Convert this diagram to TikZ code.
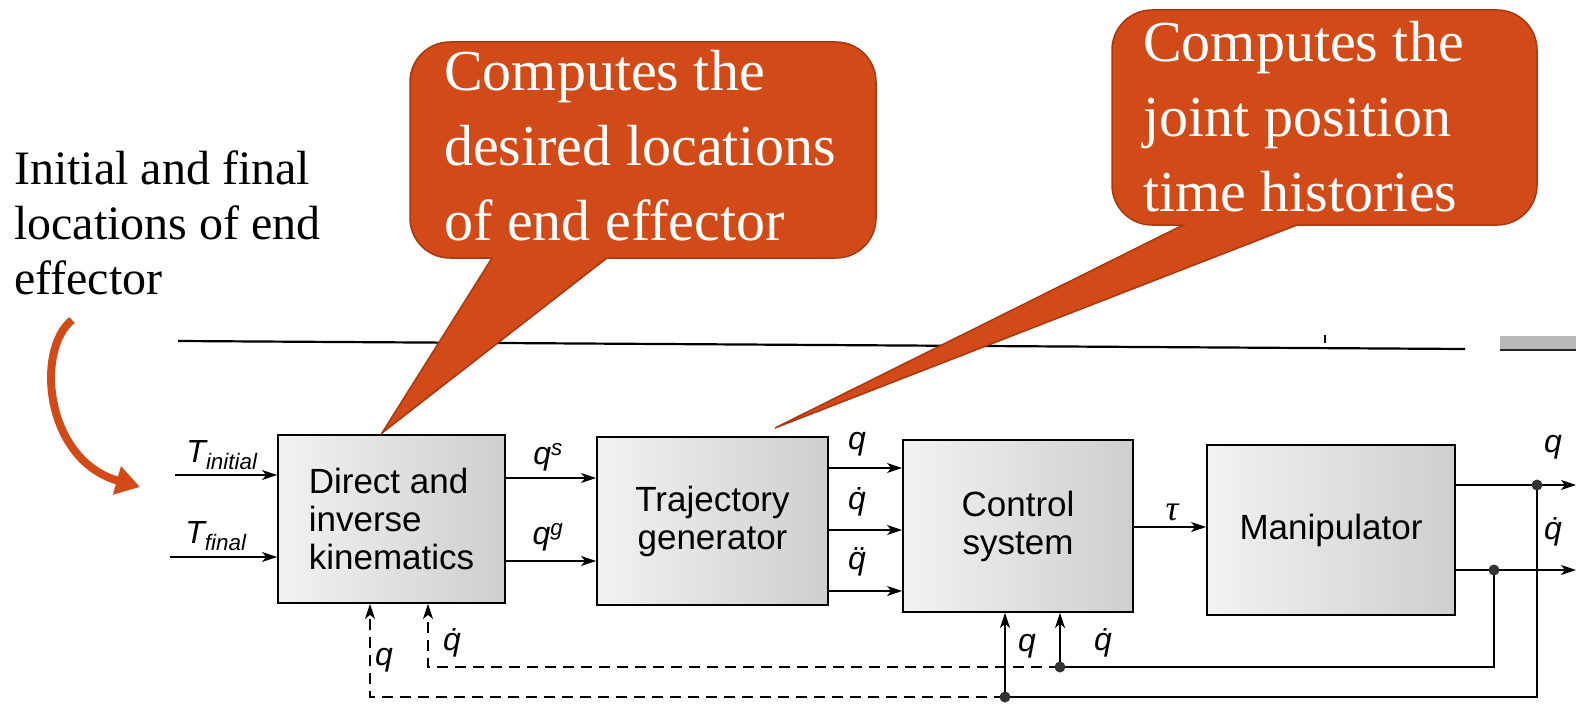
\documentclass[tikz,border=0pt]{standalone}
\usepackage{fontspec}
\setmainfont{Liberation Serif}
\setsansfont{Liberation Sans}
\usetikzlibrary{arrows.meta}
\definecolor{callfill}{RGB}{209,74,24}
\definecolor{callline}{RGB}{168,56,16}
% speech bubble: left, top, right, bottom, tail base left, tail base right, tip x, tip y
\newcommand\bubblepath[8]{%
  \path[bubble] (#1+40,#2) -- (#3-40,#2) arc[start angle=270,end angle=360,radius=40]
  -- (#3,#4-40) arc[start angle=0,end angle=90,radius=40]
  -- (#6,#4) -- (#7,#8) -- (#5,#4)
  -- (#1+40,#4) arc[start angle=90,end angle=180,radius=40]
  -- (#1,#2+40) arc[start angle=180,end angle=270,radius=40] -- cycle;}
\begin{document}
\begin{tikzpicture}[x=1pt,y=-1pt,
  blk/.style={draw=black, line width=1.8pt, left color=gray!10, right color=gray!38,
    font=\sffamily\fontsize{35}{38}\selectfont, inner sep=0},
  tip/.style={-{Stealth[length=15pt,width=10pt,inset=4pt]}},
  sig/.style={line width=1.6pt, tip},
  fb/.style={line width=1.5pt},
  fbd/.style={line width=1.5pt, dash pattern=on 11pt off 7pt},
  lab/.style={font=\sffamily\itshape\fontsize{32}{36}\selectfont, inner sep=0},
  dotj/.style={circle, fill=black!80, inner sep=0, minimum size=11pt},
  bubble/.style={fill=callfill, draw=callline, line width=1.5pt},
  bubtext/.style={text=white, font=\rmfamily\fontsize{58}{75}\selectfont, align=left,
    inner sep=0, anchor=north west},
]
\fill[white] (0,0) rectangle (1576,714);
\useasboundingbox (0,0) rectangle (1576,714);

% rule and scrap at the top of the figure
\draw[line width=2.2pt] (178,341) -- (1465,349);
\draw[line width=2pt] (1325,335) -- (1325,343);
\fill[gray!55] (1500,336) rectangle (1576,350);
\draw[line width=2.4pt, black!85] (1500,350) -- (1576,350);

% blocks
\node[blk, minimum width=227pt, minimum height=168pt, align=left] (dik) at (391.5,519) {Direct and\\inverse\\kinematics};
\node[blk, minimum width=231pt, minimum height=168pt, align=center] (traj) at (712.5,521) {Trajectory\\generator};
\node[blk, minimum width=230pt, minimum height=172pt, align=center] (ctrl) at (1018,526) {Control\\system};
\node[blk, minimum width=248pt, minimum height=170pt] (man) at (1331,530) {Manipulator};

% inputs
\coordinate (inTi) at (175,475);
\coordinate (inTf) at (170,557);
\draw[sig] (inTi) -- (inTi -| dik.west);
\draw[sig] (inTf) -- (inTf -| dik.west);
\node[lab] (lTi) at (222,455) {T\textsubscript{initial}};
\node[lab] (lTf) at (216,536) {T\textsubscript{final}};

% kinematics -> trajectory generator
\coordinate (yqs) at (0,478);
\coordinate (yqg) at (0,561);
\draw[sig] (dik.east |- yqs) -- (traj.west |- yqs);
\draw[sig] (dik.east |- yqg) -- (traj.west |- yqg);
\node[lab] (lqs) at (548,457) {q\textsuperscript{s}};
\node[lab] (lqg) at (548,537) {q\textsuperscript{g}};

% trajectory generator -> control system
\coordinate (yq) at (0,468);
\coordinate (yqd) at (0,530);
\coordinate (yqdd) at (0,591);
\draw[sig] (traj.east |- yq) -- (ctrl.west |- yq);
\draw[sig] (traj.east |- yqd) -- (ctrl.west |- yqd);
\draw[sig] (traj.east |- yqdd) -- (ctrl.west |- yqdd);
\node[lab] (lq1) at (857,444) {q};
\node[lab] (lq2) at (857,502) {q̇};
\node[lab] (lq3) at (857,562) {q̈};

% control system -> manipulator
\coordinate (ytau) at (0,527);
\draw[sig] (ctrl.east |- ytau) -- (man.west |- ytau);
\node[lab, font=\rmfamily\itshape\fontsize{36}{40}\selectfont] (ltau) at (1172,512) {τ};

% manipulator outputs
\coordinate (jq) at (1537,485);
\coordinate (jqd) at (1494,570);
\coordinate (endq) at (1576,485);
\coordinate (endqd) at (1576,570);
\draw[sig] (man.east |- jq) -- (endq);
\draw[sig] (man.east |- jqd) -- (endqd);
\node[lab] (lqo) at (1553,447) {q};
\node[lab] (lqdo) at (1553,532) {q̇};

% feedback paths
\coordinate (cq) at (1005,697);
\coordinate (cqd) at (1060,667);
\coordinate (lq) at (370,697);
\coordinate (lqd) at (428,667);
\draw[fb] (jq) -- (jq |- cq) -- (cq);
\draw[fb] (jqd) -- (jqd |- cqd) -- (cqd);
\draw[fbd, tip] (cq) -- (lq) -- (lq |- dik.south);
\draw[fbd, tip] (cqd) -- (lqd) -- (lqd |- dik.south);
\draw[sig] (cq) -- (cq |- ctrl.south);
\draw[sig] (cqd) -- (cqd |- ctrl.south);
\node[dotj] (d1) at (jq) {};
\node[dotj] (d2) at (jqd) {};
\node[dotj] (d3) at (cq) {};
\node[dotj] (d4) at (cqd) {};
\node[lab] (lfq1) at (384,660) {q};
\node[lab] (lfqd1) at (452,643) {q̇};
\node[lab] (lfq2) at (1027,646) {q};
\node[lab] (lfqd2) at (1103,643) {q̇};

% caption with curved arrow
\node[font=\rmfamily\fontsize{48}{55}\selectfont, align=left, anchor=north west, inner sep=0]
  (cap) at (14,151) {Initial and final\\locations of end\\effector};
\draw[callfill, line width=8pt, -{Triangle[length=24pt,width=28pt]}]
  (72,320) .. controls (35,350) and (45,460) .. (140,487);

% speech bubbles
\bubblepath{410}{42}{876}{258}{492}{607}{382}{433}
\node[bubtext] (b1) at (444,50) {Computes the\\desired locations\\of end effector};
\bubblepath{1112}{10}{1537}{225}{1183}{1297}{775}{428}
\node[bubtext] (b2) at (1143,21) {Computes the\\joint position\\time histories};
\end{tikzpicture}
\end{document}
